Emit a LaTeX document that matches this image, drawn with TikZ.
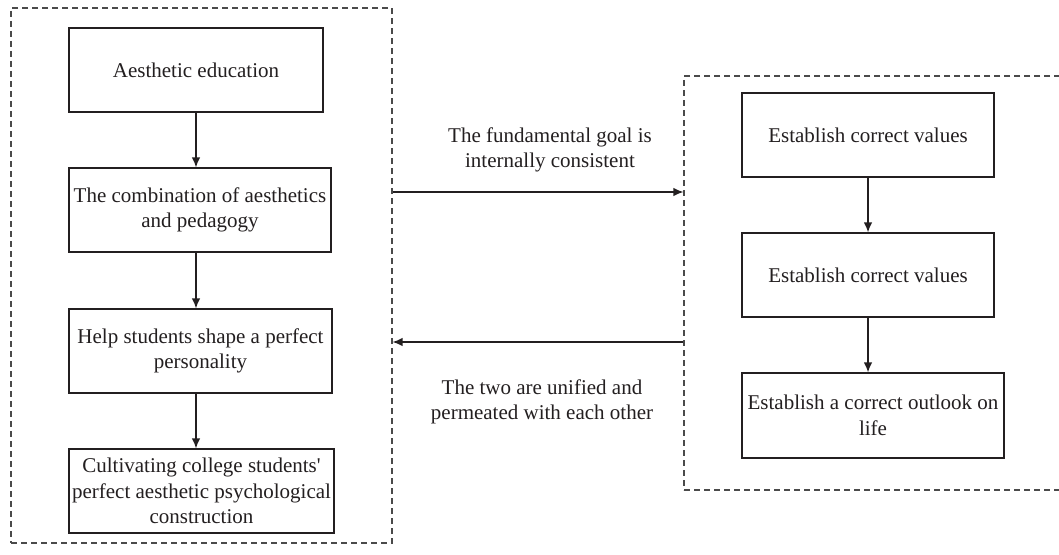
\documentclass[tikz,border=0pt]{standalone}
\usepackage{fontspec}
\setmainfont{Liberation Serif}[Ligatures=TeXOff]
\usetikzlibrary{arrows.meta}
\definecolor{ink}{HTML}{231F20}
\definecolor{dashgray}{HTML}{4A4A4A}
\begin{document}
\begin{tikzpicture}[x=1pt,y=-1pt,
  stepbox/.style={draw=ink,line width=1.3pt,inner sep=0pt,align=center,text=ink,
    font=\fontsize{21}{25.5}\selectfont,minimum height=84pt},
  groupbox/.style={draw=dashgray,line width=1.2pt,dash pattern=on 6pt off 4pt,inner sep=0pt},
  lbl/.style={align=center,text=ink,font=\fontsize{21}{25.5}\selectfont,inner sep=0pt},
  arr/.style={draw=ink,line width=1.3pt,-{Latex[length=10pt,width=8.5pt]}}]
\clip (0,0) rectangle (1059,554);
\fill[white] (0,0) rectangle (1059,554);
% group boxes
\node[groupbox,minimum width=381pt,minimum height=535pt] (L) at (201.5,275.5) {};
\node[groupbox,minimum width=381pt,minimum height=414pt] (R) at (874.5,283) {};
% left column
\node[stepbox,minimum width=254pt] (a1) at (196,70) {Aesthetic education};
\node[stepbox,minimum width=262pt] (a2) at (200,210) {The combination of aesthetics\\and pedagogy};
\node[stepbox,minimum width=263pt] (a3) at (200.5,351) {Help students shape a perfect\\personality};
\node[stepbox,minimum width=265pt] (a4) at (201.5,491) {Cultivating college students'\\perfect aesthetic psychological\\construction};
% right column
\node[stepbox,minimum width=252pt] (b1) at (868,135) {Establish correct values};
\node[stepbox,minimum width=252pt] (b2) at (868,275) {Establish correct values};
\node[stepbox,minimum width=262pt,minimum height=85pt] (b3) at (873,415.5) {Establish a correct outlook on\\life};
% vertical arrows
\draw[arr] (a1.south) -- (a1.south |- a2.north);
\draw[arr] (a1.south |- a2.south) -- (a1.south |- a3.north);
\draw[arr] (a1.south |- a3.south) -- (a1.south |- a4.north);
\draw[arr] (b1.south) -- (b1.south |- b2.north);
\draw[arr] (b1.south |- b2.south) -- (b1.south |- b3.north);
% horizontal arrows
\coordinate (t) at (0,192);
\coordinate (u) at (0,342);
\draw[arr] (L.east |- t) -- (R.west |- t);
\draw[arr] (R.west |- u) -- (L.east |- u);
% labels
\node[lbl] (l1) at (550,150) {The fundamental goal is\\internally consistent};
\node[lbl] (l2) at (542,402) {The two are unified and\\permeated with each other};
\end{tikzpicture}
\end{document}
